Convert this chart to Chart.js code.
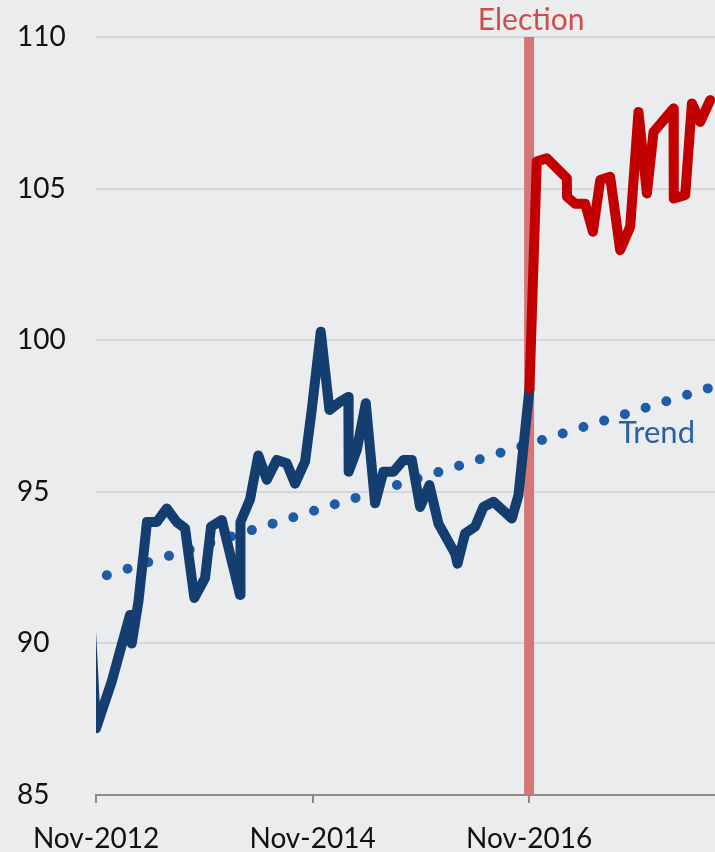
<!DOCTYPE html>
<html>
<head>
<meta charset="utf-8">
<script src="https://cdn.jsdelivr.net/npm/chart.js@4"></script>
<style>
  html, body { margin: 0; padding: 0; background: #ebecee; }
  #wrap { width: 715px; height: 852px; }
</style>
</head>
<body>
<div id="wrap"><canvas id="chart"></canvas></div>
<script>
// months counted from Nov-2012
const tickMonths = [0, 24, 48];
const tickLabels = ["Nov-2012", "Nov-2014", "Nov-2016"];

const beforeMonths = [-1, 0, 1.74, 3.77, 3.96, 4.71, 5.65, 6.73, 7.84, 8.95, 9.87, 10.9, 12.08, 12.75, 13.94, 15.96, 16.01, 17.07, 17.99, 18.93, 20.03, 21.14, 22.06, 23.17, 23.91, 24.91, 25.87, 27.05, 27.97, 28.0, 28.9, 29.9, 30.93, 31.85, 32.96, 34.07, 35.0, 35.92, 36.95, 37.95, 39.8, 40.06, 40.91, 42.02, 42.94, 44.05, 46.09, 46.82, 48.04];
const beforeValues = [93.0, 87.2, 88.74, 90.94, 90.0, 91.4, 94.0, 94.0, 94.45, 94.0, 93.8, 91.5, 92.15, 93.85, 94.07, 91.6, 94.0, 94.75, 96.2, 95.4, 96.05, 95.94, 95.27, 96.0, 97.7, 100.28, 97.7, 97.97, 98.13, 95.66, 96.38, 97.92, 94.62, 95.66, 95.66, 96.05, 96.05, 94.5, 95.22, 93.95, 92.96, 92.63, 93.63, 93.85, 94.5, 94.67, 94.12, 94.89, 98.41];

const afterMonths = [48.04, 48.85, 49.96, 52.18, 52.2, 53.1, 54.21, 55.07, 55.88, 56.98, 58.09, 59.2, 60.12, 61.05, 61.79, 64.0, 64.03, 65.3, 66.04, 66.96, 68.07];
const afterValues = [98.41, 105.89, 106.0, 105.34, 104.73, 104.5, 104.5, 103.58, 105.28, 105.39, 102.97, 103.74, 107.53, 104.84, 106.87, 107.64, 104.67, 104.79, 107.81, 107.2, 107.92];

const trendMonths = [1.2, 67.9];
const trendValues = [92.25, 98.42];

const electionMonth = 48;

const toPoints = (xs, ys) => xs.map((x, i) => ({ x: x, y: ys[i] }));

const bgPlugin = {
  id: "bg",
  beforeDraw(chart) {
    const ctx = chart.ctx;
    ctx.save();
    ctx.fillStyle = "#ebecee";
    ctx.fillRect(0, 0, chart.width, chart.height);
    ctx.restore();
  }
};

const labelPlugin = {
  id: "labels",
  afterDraw(chart) {
    const ctx = chart.ctx;
    const x = chart.scales.x;
    const y = chart.scales.y;
    ctx.save();
    ctx.textBaseline = "middle";
    ctx.font = "30px Lato";
    ctx.fillStyle = "#d24b4b";
    ctx.textAlign = "center";
    ctx.fillText("Election", x.getPixelForValue(electionMonth) + 2, 20);
    ctx.font = "31px Lato";
    ctx.fillStyle = "#2a5fa6";
    ctx.textAlign = "left";
    ctx.fillText("Trend", x.getPixelForValue(57.9), y.getPixelForValue(96.95));
    ctx.restore();
  }
};

new Chart(document.getElementById("chart"), {
  type: "line",
  data: {
    datasets: [
      {
        data: [{ x: electionMonth, y: 85 }, { x: electionMonth, y: 110 }],
        borderColor: "#d57575",
        borderWidth: 10,
        pointRadius: 0,
        clip: 0,
        order: 4
      },
      {
        data: toPoints(trendMonths, trendValues),
        borderColor: "#1f5ca6",
        borderWidth: 10,
        borderDash: [0, 21.7],
        borderCapStyle: "round",
        pointRadius: 0,
        clip: 0,
        order: 3
      },
      {
        data: toPoints(beforeMonths, beforeValues),
        borderColor: "#143e70",
        borderWidth: 10,
        borderJoinStyle: "round",
        borderCapStyle: "round",
        pointRadius: 0,
        clip: 0,
        order: 2
      },
      {
        data: toPoints(afterMonths, afterValues),
        borderColor: "#c30000",
        borderWidth: 10,
        borderJoinStyle: "round",
        borderCapStyle: "round",
        pointRadius: 0,
        clip: 0,
        order: 1
      }
    ]
  },
  options: {
    responsive: true,
    maintainAspectRatio: false,
    animation: false,
    layout: { padding: { top: 37, left: 17, right: 0, bottom: 0 } },
    plugins: {
      legend: { display: false },
      tooltip: { enabled: false }
    },
    scales: {
      x: {
        type: "linear",
        min: 0,
        max: 68.6,
        afterBuildTicks: scale => {
          scale.ticks = tickMonths.map(v => ({ value: v }));
        },
        afterFit: scale => { scale.height = 57; },
        ticks: {
          callback: value => tickLabels[tickMonths.indexOf(value)],
          color: "#111",
          font: { family: "Lato", size: 28 },
          padding: 19,
          maxRotation: 0,
          autoSkip: false
        },
        grid: {
          drawOnChartArea: false,
          drawTicks: true,
          tickLength: 8,
          color: "#8a8a8a",
          lineWidth: 2
        },
        border: { display: true, color: "#8a8a8a", width: 2 }
      },
      y: {
        min: 85,
        max: 110,
        afterFit: scale => { scale.width = 79; },
        ticks: {
          stepSize: 5,
          crossAlign: "far",
          color: "#111",
          font: { family: "Lato", size: 28 }
        },
        grid: {
          drawTicks: false,
          color: "#d6d7da",
          lineWidth: 2
        },
        border: { display: false }
      }
    }
  },
  plugins: [bgPlugin, labelPlugin]
});
</script>
</body>
</html>
